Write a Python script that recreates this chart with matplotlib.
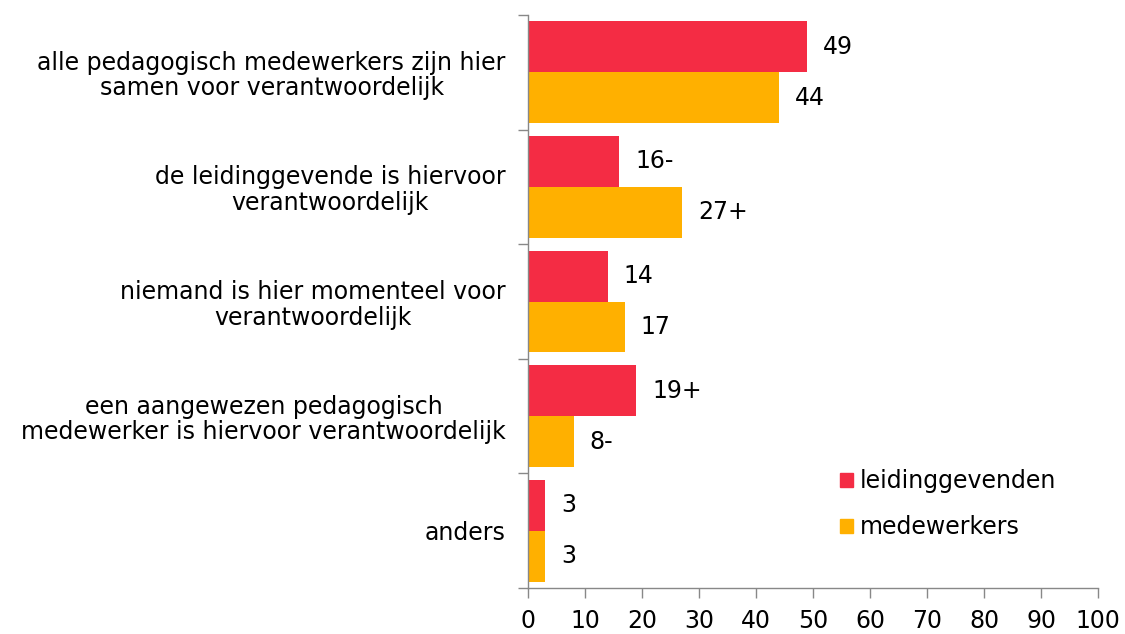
import matplotlib
matplotlib.use("Agg")
import matplotlib.pyplot as plt
from matplotlib.patches import Patch
import numpy as np

categories = [
    "alle pedagogisch medewerkers zijn hier\nsamen voor verantwoordelijk",
    "de leidinggevende is hiervoor\nverantwoordelijk",
    "niemand is hier momenteel voor\nverantwoordelijk",
    "een aangewezen pedagogisch\nmedewerker is hiervoor verantwoordelijk",
    "anders",
]
leidinggevenden = [49, 16, 14, 19, 3]
medewerkers = [44, 27, 17, 8, 3]
labels_leid = ["49", "16-", "14", "19+", "3"]
labels_mede = ["44", "27+", "17", "8-", "3"]
series_names = ["leidinggevenden", "medewerkers"]
xticks = [0, 10, 20, 30, 40, 50, 60, 70, 80, 90, 100]

red = "#F42C44"
orange = "#FFB000"
gray = "#888888"
fs = 17

plt.rcParams['font.family'] = ['DejaVu Sans']

fig = plt.figure(figsize=(11.25, 6.34), dpi=100)
ax = fig.add_axes([528/1125, 1-588/634, (1098-528)/1125, (588-15)/634])

y = np.arange(len(categories))
h = 0.445
ax.barh(y - h/2, leidinggevenden, height=h, color=red)
ax.barh(y + h/2, medewerkers, height=h, color=orange)

for yi, v, t in zip(y, leidinggevenden, labels_leid):
    ax.text(v + 2.8, yi - h/2, t, va="center", ha="left", fontsize=fs)
for yi, v, t in zip(y, medewerkers, labels_mede):
    ax.text(v + 2.8, yi + h/2, t, va="center", ha="left", fontsize=fs)

ax.set_xlim(0, 100)
ax.set_ylim(len(categories) - 0.5, -0.5)
ax.set_xticks(xticks)
ax.set_xticklabels([str(v) for v in xticks], fontsize=fs)
ax.set_yticks(np.arange(len(categories) + 1) - 0.5)
ax.set_yticklabels([])
ax.set_yticks(y, minor=True)
ax.set_yticklabels(categories, minor=True, fontsize=fs, multialignment="center",
                   linespacing=1.08)
ax.tick_params(axis="y", which="minor", length=0, pad=16)
ax.tick_params(axis="y", which="major", length=7, color=gray, width=1)
ax.tick_params(axis="x", length=7, color=gray, width=1, pad=8)

for s in ["top", "right"]:
    ax.spines[s].set_visible(False)
for s in ["left", "bottom"]:
    ax.spines[s].set_color(gray)
    ax.spines[s].set_linewidth(1)

handles = [Patch(color=red), Patch(color=orange)]
leg = ax.legend(handles, series_names, loc="upper left",
                bbox_to_anchor=((840-528)/570, (588-469)/573),
                frameon=False, fontsize=fs, handlelength=0.55, handleheight=0.55,
                handletextpad=0.3, labelspacing=0.95, borderaxespad=0,
                borderpad=0)

fig.savefig("out.png", dpi=100)
